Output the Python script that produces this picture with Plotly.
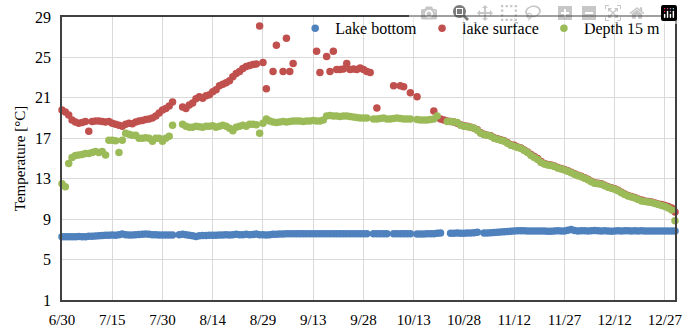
import pandas as pd
import plotly.graph_objects as go

start_date = "2019-06-30"
n_days = 184

tick_labels = ["6/30", "7/15", "7/30", "8/14", "8/29", "9/13", "9/28",
               "10/13", "10/28", "11/12", "11/27", "12/12", "12/27"]
y_ticks = [1, 5, 9, 13, 17, 21, 25, 29]

lake_bottom = [
    7.25, 7.27, 7.27, 7.25, 7.27, 7.28, 7.27, 7.27, 7.30, 7.30,
    7.32, 7.35, 7.38, 7.40, 7.40, 7.42, 7.40, 7.45, 7.53, 7.45,
    7.43, 7.43, 7.45, 7.47, 7.50, 7.52, 7.50, 7.45, 7.45, 7.43,
    7.42, 7.42, 7.42, 7.42, None, 7.45, 7.50, 7.45, 7.40, 7.35,
    7.28, 7.35, 7.38, 7.38, 7.40, 7.40, 7.40, 7.42, 7.42, 7.45,
    7.43, 7.45, 7.50, 7.45, 7.45, 7.50, 7.45, 7.48, 7.52, 7.45,
    7.45, 7.42, 7.45, 7.50, 7.50, 7.52, 7.52, 7.55, 7.55, 7.55,
    7.55, 7.55, 7.55, 7.55, 7.55, 7.55, 7.55, 7.55, 7.55, 7.55,
    7.55, 7.55, 7.55, 7.55, 7.55, 7.55, 7.55, 7.55, 7.55, 7.55,
    7.55, 7.55, None, 7.55, 7.55, 7.55, 7.55, 7.55, None, 7.55,
    7.55, 7.55, 7.55, 7.55, 7.55, None, 7.52, 7.52, 7.52, 7.55,
    7.55, 7.55, 7.60, 7.62, None, None, 7.60, 7.60, 7.62, 7.60,
    7.60, 7.62, 7.62, 7.65, 7.70, None, 7.62, 7.62, 7.65, 7.68,
    7.70, 7.72, 7.75, 7.78, 7.80, 7.82, 7.85, 7.85, 7.85, 7.83,
    7.83, 7.83, 7.82, 7.82, 7.82, 7.80, 7.80, 7.82, 7.85, 7.83,
    7.83, 7.90, 7.98, 7.88, 7.83, 7.85, 7.85, 7.83, 7.85, 7.88,
    7.85, 7.83, 7.85, 7.83, 7.80, 7.82, 7.85, 7.83, 7.85, 7.85,
    7.83, 7.85, 7.83, 7.85, 7.83, 7.83, 7.82, 7.82, 7.83, 7.83,
    7.83, 7.83, 7.83, 7.83,
]

lake_surface = [
    19.8, 19.6, 19.3, 18.8, 18.6, 18.5, 18.55, 18.65, 17.7, 18.65,
    18.7, 18.7, 18.65, 18.6, 18.65, 18.5, 18.4, 18.3, 18.2, 18.4,
    18.5, 18.45, 18.6, 18.7, 18.75, 18.85, 18.9, 19.0, 19.2, 19.5,
    19.8, 19.95, 20.2, 20.6, None, None, 20.1, 19.95, 20.3, 20.5,
    20.9, 21.1, 20.95, 21.2, 21.3, 21.6, 21.8, 22.2, 22.35, 22.5,
    22.7, 23.1, 23.4, 23.6, 23.9, 24.1, 24.2, 24.3, 24.35, 28.1,
    24.5, 21.9, None, 23.6, 26.2, None, 23.6, 26.9, 23.6, 24.4,
    None, None, None, None, None, None, 25.6, 23.5, None, 25.1,
    23.6, 25.6, 23.8, 23.8, 23.85, 24.4, 23.8, 23.85, 23.8, 23.95,
    23.8, 23.6, 23.5, None, 20.0, None, None, None, None, 22.2,
    None, 22.2, 22.1, None, 21.5, None, 21.1, None, None, None,
    None, 19.7, None, 18.9, 18.8, 18.7, 18.65, 18.6, 18.5, 18.35,
    18.25, 18.2, 18.1, 18.0, 17.85, 17.55, 17.4, 17.3, 17.25, 17.05,
    16.95, 16.85, 16.75, 16.55, 16.35, 16.3, 16.15, 16.05, 15.85, 15.65,
    15.4, 15.2, 15.0, 14.7, 14.5, 14.4, 14.35, 14.25, 14.1, 14.0,
    13.9, 13.8, 13.65, 13.5, 13.35, 13.25, 13.1, 12.95, 12.75, 12.6,
    12.55, 12.5, 12.35, 12.2, 12.1, 12.0, 11.85, 11.65, 11.5, 11.35,
    11.25, 11.15, 11.0, 10.9, 10.8, 10.75, 10.7, 10.6, 10.5, 10.45,
    10.35, 10.25, 10.1, 9.7,
]

depth_15m = [
    12.5, 12.2, 14.5, 15.1, 15.3, 15.35, 15.4, 15.5, 15.5, 15.6,
    15.7, 15.6, 15.7, 15.35, 16.8, 16.8, 16.75, 15.6, 16.8, 17.5,
    17.4, 17.3, 17.3, 17.0, 17.0, 17.05, 17.0, 16.7, 17.0, 17.0,
    16.7, 17.0, 17.2, 18.3, None, None, 18.4, 18.2, 18.1, 18.1,
    18.2, 18.15, 18.1, 18.2, 18.2, 18.25, 18.1, 18.2, 18.3, 18.2,
    18.0, 17.75, 18.1, 18.2, 18.3, 18.2, 18.4, 18.4, 18.35, 17.5,
    18.5, 18.9, 18.7, 18.6, 18.55, 18.6, 18.65, 18.6, 18.65, 18.7,
    18.7, 18.7, 18.65, 18.7, 18.7, 18.75, 18.7, 18.7, 18.8, 19.2,
    19.25, 19.2, 19.2, 19.15, 19.2, 19.2, 19.15, 19.1, 19.05, 19.0,
    19.0, 19.0, None, 18.9, 18.9, 18.95, 19.0, 18.9, 18.9, 18.95,
    19.0, 18.95, 18.9, 18.9, 18.9, None, 18.85, 18.8, 18.8, 18.8,
    18.85, 18.9, 19.2, None, None, 18.65, 18.65, 18.6, 18.55, 18.3,
    18.2, 18.15, 18.1, 18.0, 17.8, 17.5, 17.35, 17.3, 17.2, 17.0,
    16.9, 16.8, 16.7, 16.5, 16.3, 16.2, 16.1, 16.0, 15.8, 15.6,
    15.3, 15.1, 14.9, 14.6, 14.45, 14.35, 14.3, 14.2, 14.05, 13.95,
    13.85, 13.75, 13.6, 13.45, 13.3, 13.2, 13.05, 12.9, 12.7, 12.55,
    12.5, 12.45, 12.3, 12.15, 12.05, 11.95, 11.8, 11.6, 11.45, 11.3,
    11.2, 11.1, 10.95, 10.8, 10.75, 10.7, 10.65, 10.55, 10.45, 10.35,
    10.25, 10.1, 9.9, 8.85,
]

assert len(lake_bottom) == n_days and len(lake_surface) == n_days and len(depth_15m) == n_days

dates = pd.date_range(start_date, periods=n_days, freq="D")
tick_vals = pd.date_range(start_date, periods=len(tick_labels), freq="15D")

FONT = "Liberation Serif"

fig = go.Figure()
series = [
    ("Lake bottom", lake_bottom, "#4F81BD"),
    ("lake surface", lake_surface, "#C0504D"),
    ("Depth 15 m", depth_15m, "#9BBB59"),
]
for name, vals, col in series:
    fig.add_trace(go.Scatter(
        x=dates, y=vals, mode="markers", name=name,
        marker=dict(color=col, size=7.5, line=dict(width=0)),
        cliponaxis=False,
    ))

fig.update_layout(
    width=683, height=329,
    margin=dict(l=62, r=8, t=17, b=29),
    paper_bgcolor="white", plot_bgcolor="white",
    font=dict(family=FONT, size=16, color="#000000"),
    showlegend=True,
    legend=dict(
        orientation="h", x=0.984, xanchor="right", y=1.02, yanchor="top",
        bgcolor="rgba(255,255,255,0)", font=dict(size=16, family=FONT, color="#000000"),
        itemwidth=30, tracegroupgap=0,
    ),
)
fig.update_xaxes(
    range=[pd.Timestamp("2019-06-30"), pd.Timestamp("2019-12-30")],
    tickvals=tick_vals, ticktext=tick_labels,
    showgrid=True, gridcolor="#D9D9D9", gridwidth=1,
    showline=True, linecolor="#404040", linewidth=1.5, mirror=True,
    ticks="", tickfont=dict(size=15, family=FONT, color="#000000"), zeroline=False,
    ticklabelstandoff=5, automargin=False, ticklabeloverflow="allow",
)
fig.update_yaxes(
    range=[1, 29], tickvals=y_ticks,
    showgrid=True, gridcolor="#D9D9D9", gridwidth=1,
    showline=True, linecolor="#404040", linewidth=1.5, mirror=True,
    ticks="", tickfont=dict(size=16, family=FONT, color="#000000"), zeroline=False,
    ticklabelstandoff=6, automargin=False, ticklabeloverflow="allow",
    title=dict(text="Temperature [°C]", font=dict(size=15, family=FONT, color="#000000"), standoff=6),
)

# remove the default 8px page margin so the figure fills the window exactly
fig.write_html(
    "out.html",
    post_script="document.body.style.margin='0';document.body.style.overflow='hidden';",
)
